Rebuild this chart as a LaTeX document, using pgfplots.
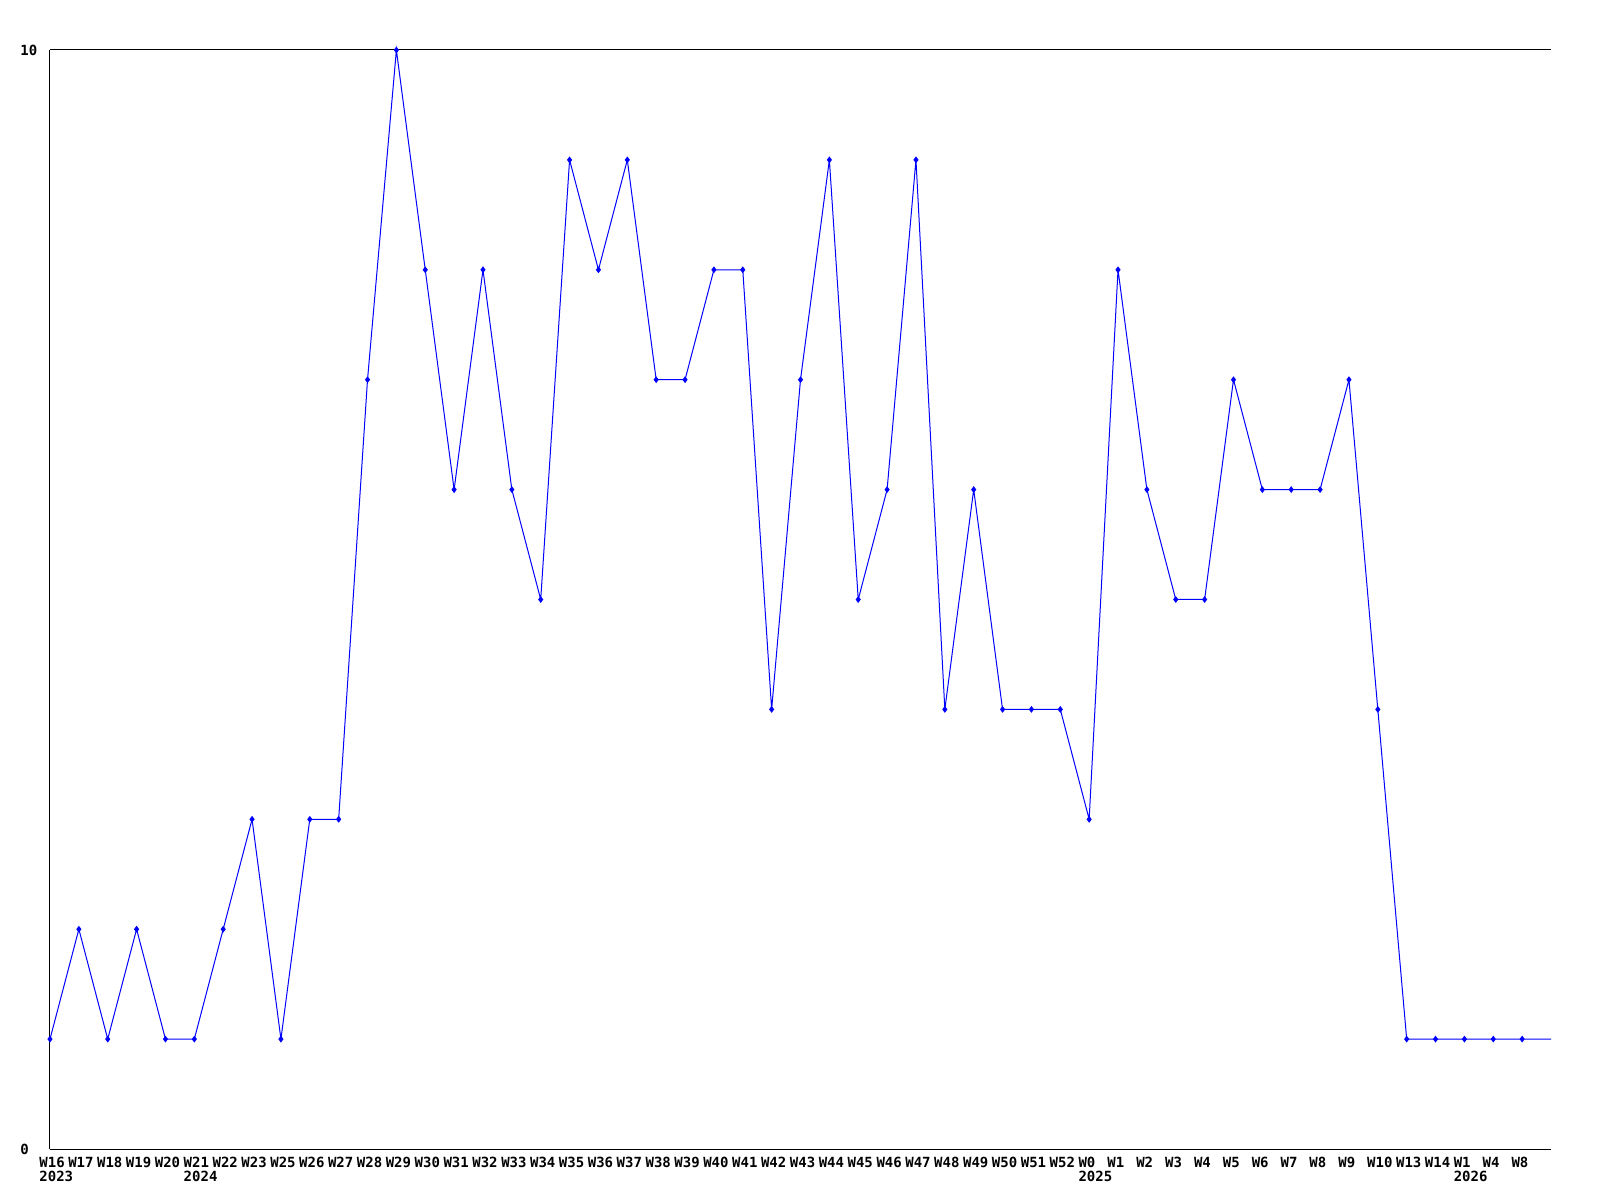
\documentclass[border=0pt]{standalone}
\usepackage{fontspec}
\setmonofont{DejaVu Sans Mono}
\usepackage{pgfplots}
\pgfplotsset{compat=1.18}

\pgfplotstableread{
x y
0 1
1 2
2 1
3 2
4 1
5 1
6 2
7 3
8 1
9 3
10 3
11 7
12 10
13 8
14 6
15 8
16 6
17 5
18 9
19 8
20 9
21 7
22 7
23 8
24 8
25 4
26 7
27 9
28 5
29 6
30 9
31 4
32 6
33 4
34 4
35 4
36 3
37 8
38 6
39 5
40 5
41 7
42 6
43 6
44 6
45 7
46 4
47 1
48 1
49 1
50 1
51 1
52 1
}\weeks

\begin{document}
\begin{tikzpicture}
\begin{axis}[
    scale only axis,
    width=750.5pt, height=549.5pt,
    xmin=0, xmax=52, ymin=0, ymax=10,
    axis x line*=bottom, axis y line*=left,
    axis line style={-, black, line width=0.5pt},
    ymajorgrids, grid style={black, line width=0.5pt},
    major tick length=0pt,
    ytick={0,10}, yticklabels={0,10},
    xtick={0,...,51},
    xticklabels={{W16\\2023},W17,W18,W19,W20,{W21\\2024},W22,W23,W25,W26,W27,W28,W29,W30,W31,W32,W33,W34,W35,W36,W37,W38,W39,W40,W41,W42,W43,W44,W45,W46,W47,W48,W49,W50,W51,W52,{W0\\2025},W1,W2,W3,W4,W5,W6,W7,W8,W9,W10,W13,W14,{W1\\2026},W4,W8},
    ticklabel style={font=\ttfamily\bfseries\fontsize{7}{7}\selectfont, inner sep=0pt},
    xticklabel style={anchor=north west, align=left, xshift=-5.5pt, yshift=-4pt},
    yticklabel style={anchor=west, xshift=-15pt},
    clip=false,
]
\addplot[blue, line width=0.5pt, mark=diamond*, mark size=1.3pt,
    mark indices={1,...,52}, mark options={solid, fill=blue}] table[x=x, y=y] {\weeks};
\end{axis}
\path (current axis.south west) ++(-25pt,-25pt) rectangle ([shift={(24.5pt,25pt)}]current axis.north east);
\end{tikzpicture}
\end{document}
